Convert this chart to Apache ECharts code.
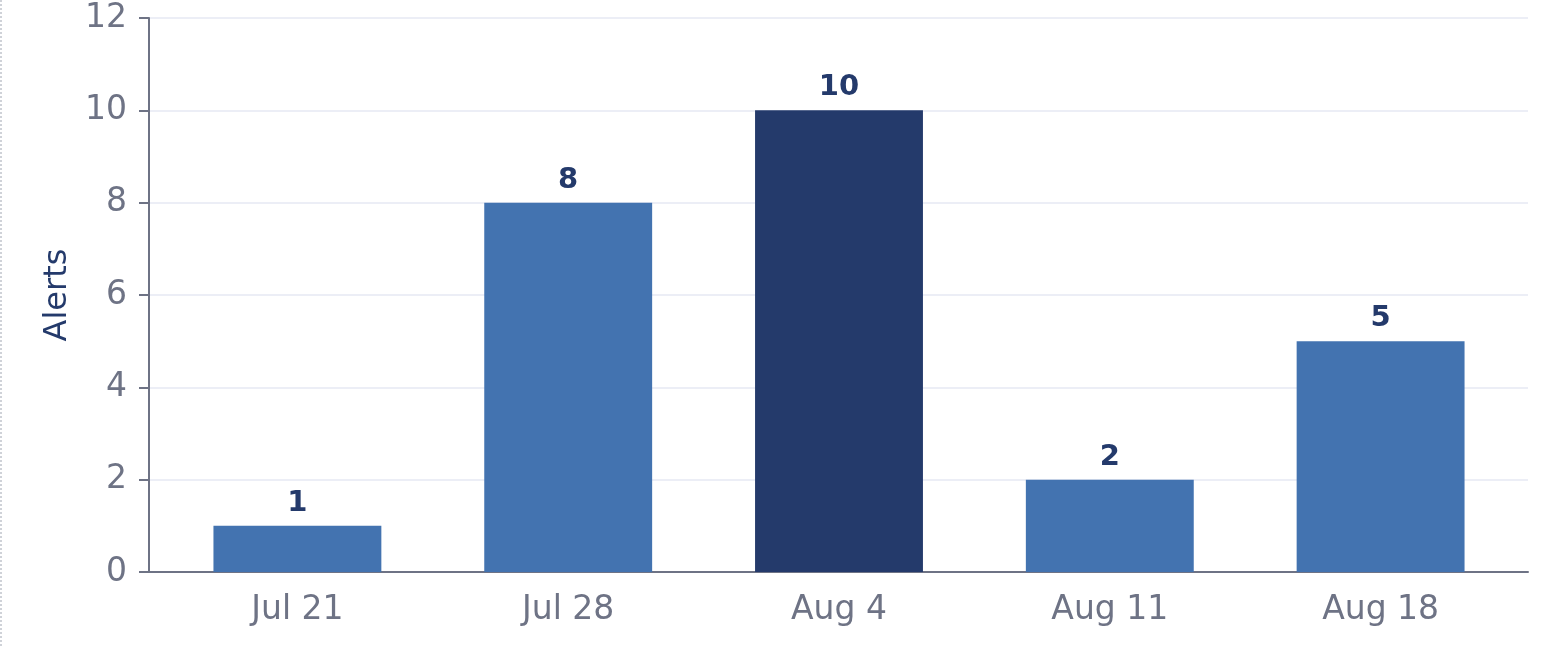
<!DOCTYPE html>
<html>
<head>
<meta charset="utf-8">
<script src="https://cdn.jsdelivr.net/npm/echarts@6/dist/echarts.min.js"></script>
<style>
  html, body { margin: 0; padding: 0; background: #fff; }
  #chart { width: 1546px; height: 646px; box-sizing: border-box; border-left: 2px dotted #cfd2d8; }
</style>
</head>
<body>
<div id="chart"></div>
<script>
// weekly alert counts
var weeks = ['Jul 21', 'Jul 28', 'Aug 4', 'Aug 11', 'Aug 18'];
var alerts = [1, 8, 10, 2, 5];
var peakWeek = 'Aug 4';

var axisGray = '#6e7385';
var navy = '#243a6b';
var blue = '#4373b0';

var myChart = echarts.init(document.getElementById('chart'));

var barData = [];
for (var i = 0; i < alerts.length; i++) {
    barData.push({
        value: alerts[i],
        itemStyle: { color: weeks[i] === peakWeek ? navy : blue }
    });
}

// outer grid carries the frame (y axis, grid lines, base line),
// inner grid is padded a little so the bars sit off the frame edges
var option = {
    animation: false,
    textStyle: { fontFamily: 'DejaVu Sans' },
    grid: [
        { left: 147, right: 18, top: 18, bottom: 74 },
        { left: 160, right: 30, top: 18, bottom: 74 }
    ],
    xAxis: [
        {
            gridIndex: 0,
            type: 'value',
            min: 0,
            max: 1,
            axisLine: { show: true, lineStyle: { color: axisGray, width: 2 } },
            axisTick: { show: false },
            axisLabel: { show: false },
            splitLine: { show: false }
        },
        {
            gridIndex: 1,
            type: 'category',
            data: weeks,
            axisLine: { show: false },
            axisTick: { alignWithLabel: true, length: 10, lineStyle: { color: axisGray, width: 2 } },
            axisLabel: { color: axisGray, fontSize: 33, margin: 22 }
        }
    ],
    yAxis: [
        {
            gridIndex: 0,
            type: 'value',
            min: 0,
            max: 12,
            interval: 2,
            name: 'Alerts',
            nameLocation: 'middle',
            nameGap: 75,
            nameTextStyle: { color: navy, fontSize: 32 },
            axisLine: { show: true, lineStyle: { color: axisGray, width: 2 } },
            axisTick: { show: true, length: 10, lineStyle: { color: axisGray, width: 2 } },
            axisLabel: { color: axisGray, fontSize: 33, margin: 22 },
            splitLine: { lineStyle: { color: '#eceef6', width: 2 } }
        },
        {
            gridIndex: 1,
            type: 'value',
            min: 0,
            max: 12,
            interval: 2,
            show: false
        }
    ],
    series: [{
        type: 'bar',
        xAxisIndex: 1,
        yAxisIndex: 1,
        data: barData,
        barWidth: '62%',
        label: {
            show: true,
            position: 'top',
            distance: 8,
            color: navy,
            fontSize: 29,
            fontWeight: 'bold'
        }
    }]
};

myChart.setOption(option);
</script>
</body>
</html>
